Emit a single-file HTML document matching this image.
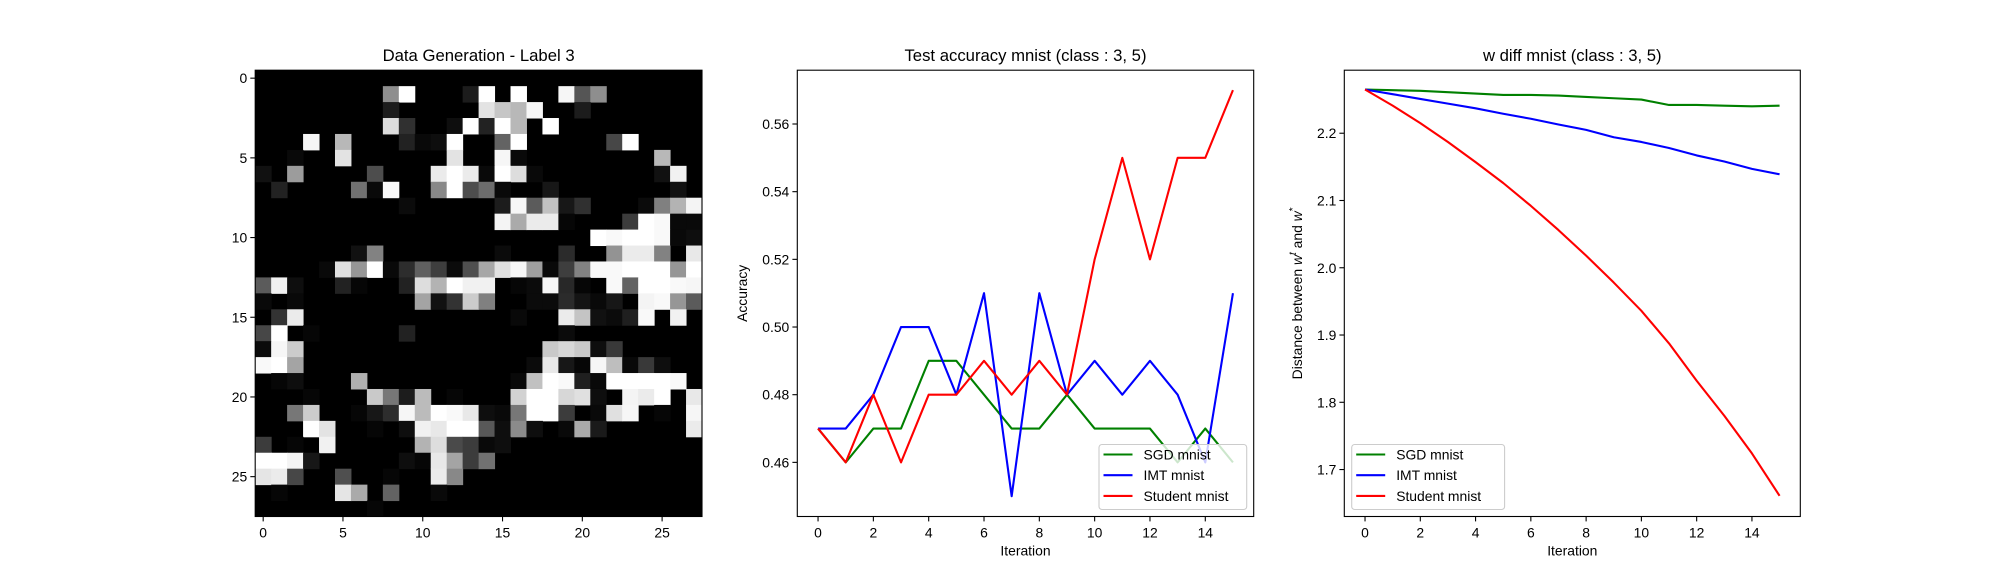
<!DOCTYPE html>
<html><head><meta charset="utf-8"><style>
html,body{margin:0;padding:0;background:#fff;}
svg{display:block;font-family:"Liberation Sans","DejaVu Sans",sans-serif;}
</style></head><body>
<svg id="fig" width="2000" height="580" viewBox="0 0 2000 580" xmlns="http://www.w3.org/2000/svg">
<rect width="2000" height="580" fill="#fff"/>
</svg>
<script>
// ---------- Heatmap data (value 0..9, 9 = white), sparse [row, col, value] ----------
const heatCells = [
[1,8,5],[1,9,9],[1,13,1],[1,14,9],[1,16,9],[1,19,8.7],[1,20,3],[1,21,5],
[2,8,1],[2,14,8],[2,15,7],[2,16,6.5],[2,17,8.7],[2,20,1],
[3,8,7.8],[3,9,1.7],[3,12,0.5],[3,13,9],[3,14,1.2],[3,15,9],[3,16,6.5],[3,18,9],
[4,3,8.7],[4,5,6.5],[4,9,1.2],[4,10,0.3],[4,11,0.5],[4,12,9],[4,15,3.5],[4,16,9],[4,22,2.5],[4,23,9],
[5,2,0.3],[5,5,8],[5,12,8],[5,15,8.7],[5,16,0.3],[5,25,6.5],
[6,0,0.6],[6,2,5.5],[6,7,2.7],[6,11,8.3],[6,12,9],[6,13,8.3],[6,14,0.3],[6,15,9],[6,16,7.8],[6,17,0.3],[6,25,0.6],[6,26,8.5],
[7,1,1.2],[7,6,4],[7,7,0.3],[7,8,8.8],[7,11,4.8],[7,12,9],[7,13,2.7],[7,14,3.8],[7,15,0.3],[7,18,0.8],[7,26,0.6],
[8,9,0.4],[8,15,1],[8,16,8.7],[8,17,3.2],[8,18,6.8],[8,19,0.8],[8,20,1.7],[8,24,0.4],[8,25,4.5],[8,26,6.3],[8,27,8.6],
[9,15,8.6],[9,16,6],[9,17,8.3],[9,18,8.3],[9,19,0.2],[9,23,2.1],[9,24,9],[9,25,8.8],[9,26,0.3],[9,27,0.3],
[10,21,9],[10,22,8.8],[10,23,9],[10,24,9],[10,25,8.8],[10,26,0.3],[10,27,0.5],
[11,6,0.6],[11,7,4.6],[11,15,0.4],[11,19,1.5],[11,22,5.2],[11,23,8.3],[11,24,8.3],[11,25,4.6],[11,27,8.2],
[12,4,0.3],[12,5,7.9],[12,6,5.3],[12,7,9],[12,8,0.3],[12,9,1.6],[12,10,3.4],[12,11,2.2],[12,12,0.4],[12,13,2.8],[12,14,5.9],[12,15,7.9],[12,16,8.7],[12,17,5.6],[12,18,0.3],[12,19,2.2],[12,20,4.6],[12,21,8.8],[12,22,8.8],[12,23,9],[12,24,9],[12,25,9],[12,26,5.3],[12,27,9],
[13,0,3.2],[13,1,8.5],[13,2,0.5],[13,5,1.2],[13,6,0.2],[13,9,1.2],[13,10,7.8],[13,11,6.3],[13,12,9],[13,13,8.5],[13,14,8.5],[13,16,0.2],[13,17,0.4],[13,18,8.7],[13,19,1.4],[13,20,0.2],[13,22,8.8],[13,23,3.5],[13,24,9],[13,25,9],[13,26,8.8],[13,27,8.7],
[14,0,0.3],[14,2,0.3],[14,10,5.8],[14,11,0.6],[14,12,1.8],[14,13,7.2],[14,14,4.5],[14,17,0.4],[14,18,0.4],[14,19,1.5],[14,20,0.7],[14,21,0.3],[14,22,0.8],[14,24,8.6],[14,25,8.8],[14,26,5.3],[14,27,3.2],
[15,1,1.8],[15,2,8.3],[15,16,0.3],[15,19,8.3],[15,20,6.9],[15,21,0.6],[15,22,0.4],[15,23,1.1],[15,24,8.8],[15,26,8.5],
[16,0,2.5],[16,1,9],[16,3,0.2],[16,9,1.2],[16,19,0.4],
[17,0,0.4],[17,1,8.7],[17,2,7.2],[17,18,7.1],[17,19,7.6],[17,20,7.1],[17,21,0.5],[17,22,2],
[18,0,8.8],[18,1,9],[18,2,5.8],[18,17,0.4],[18,18,8.2],[18,19,0.8],[18,20,0.2],[18,21,8.7],[18,22,6.7],[18,23,0.3],[18,24,2],[18,25,0.5],
[19,1,0.2],[19,2,0.5],[19,6,6.2],[19,16,0.3],[19,17,6.8],[19,18,9],[19,19,8.8],[19,20,1.1],[19,21,0.3],[19,22,9],[19,23,9],[19,24,9],[19,25,9],[19,26,8.8],
[20,3,0.2],[20,7,7.1],[20,8,4.2],[20,9,1],[20,10,6.6],[20,12,0.2],[20,16,7.4],[20,17,9],[20,18,9],[20,19,7.6],[20,20,7.9],[20,21,0.5],[20,23,8.6],[20,24,8.3],[20,25,9],[20,27,8.2],
[21,2,4.2],[21,3,7.2],[21,6,0.2],[21,7,0.8],[21,8,1.6],[21,9,8.7],[21,10,6.6],[21,11,9],[21,12,8.8],[21,13,8.2],[21,14,0.5],[21,15,0.3],[21,16,4.2],[21,17,9],[21,18,9],[21,19,2.1],[21,21,0.3],[21,22,7.9],[21,23,8.7],[21,25,0.2],[21,27,8.7],
[22,3,9],[22,4,8],[22,7,0.2],[22,9,0.5],[22,10,8.5],[22,11,8.2],[22,12,9],[22,13,9],[22,14,3.1],[22,15,0.5],[22,16,4.9],[22,17,0.5],[22,19,0.3],[22,20,6],[22,21,0.9],[22,27,8.3],
[23,0,2.1],[23,2,0.2],[23,4,8.5],[23,10,6.3],[23,11,7.8],[23,12,2.6],[23,13,2.1],[23,14,0.3],[23,15,0.5],
[24,0,9],[24,1,9],[24,2,8.6],[24,3,0.8],[24,9,0.5],[24,10,0.2],[24,11,8.2],[24,12,5.8],[24,13,2.1],[24,14,4],
[25,0,8.1],[25,1,8.3],[25,2,2.5],[25,5,2.8],[25,8,0.2],[25,11,8.3],[25,12,4.8],
[26,1,0.2],[26,5,8.1],[26,6,6],[26,8,3.5],[26,11,0.3],
[27,7,0.2]
];
const heatTicks = [0,5,10,15,20,25];

// ---------- Accuracy chart data ----------
const iterations = [0,1,2,3,4,5,6,7,8,9,10,11,12,13,14,15];
const accSGD = [0.47,0.46,0.47,0.47,0.49,0.49,0.48,0.47,0.47,0.48,0.47,0.47,0.47,0.46,0.47,0.46];
const accIMT = [0.47,0.47,0.48,0.50,0.50,0.48,0.51,0.45,0.51,0.48,0.49,0.48,0.49,0.48,0.46,0.51];
const accStudent = [0.47,0.46,0.48,0.46,0.48,0.48,0.49,0.48,0.49,0.48,0.52,0.55,0.52,0.55,0.55,0.57];
const accYTicks = [0.46,0.48,0.50,0.52,0.54,0.56];
const xTicks = [0,2,4,6,8,10,12,14];

// ---------- w diff chart data ----------
const wSGD = [2.265,2.264,2.263,2.261,2.259,2.257,2.257,2.256,2.254,2.252,2.250,2.242,2.242,2.241,2.240,2.241];
const wIMT = [2.265,2.258,2.251,2.244,2.237,2.229,2.2215,2.213,2.205,2.194,2.187,2.178,2.167,2.158,2.147,2.139];
const wStudent = [2.265,2.241,2.215,2.187,2.157,2.126,2.092,2.056,2.018,1.978,1.936,1.8875,1.832,1.780,1.724,1.661];
const wYTicks = [1.7,1.8,1.9,2.0,2.1,2.2];
const seriesNames = ["SGD mnist","IMT mnist","Student mnist"];

const NS = "http://www.w3.org/2000/svg";
const svg = document.getElementById("fig");
function mk(tag, attrs, parent, text) {
  const e = document.createElementNS(NS, tag);
  for (const k in attrs) e.setAttribute(k, attrs[k]);
  if (text !== undefined) e.textContent = text;
  (parent || svg).appendChild(e);
  return e;
}
const TICK_FS = 13.9, TITLE_FS = 16.7;
const AX_T = 70.2, AX_B = 516.5;

// ================= Heatmap =================
(function(){
  const g = mk("g", {});
  
  
  const L = 255.2, T = AX_T, n = 28, cw = (702 - 255.2) / n, ch = (AX_B - AX_T) / n;
  const xS = c => L + c * cw, yS = r => T + r * ch;
  const bg = mk("rect", {x:L, y:T, width:n*cw, height:n*ch, fill:"#000"}, g);
  
  
  heatCells.forEach(([r, c, v]) => {
    const gv = Math.round(Math.min(255, v / 9 * 255));
    const rc = mk("rect", {x:xS(c), y:yS(r), width:cw+0.5, height:ch+0.5, fill:`rgb(${gv},${gv},${gv})`}, g);
    
    
  });
  const fr = mk("rect", {x:L, y:T, width:n*cw, height:n*ch, fill:"none", stroke:"#000", "stroke-width":1.1}, g);
  
  
  const B = T + n*ch;
  heatTicks.forEach(t => {
    const x = xS(t + 0.5);
    mk("line", {x1:x, x2:x, y1:B, y2:B+4.9, stroke:"#000", "stroke-width":1.1}, g);
    const tl = mk("text", {x:x, y:B+21, "font-size":TICK_FS, "text-anchor":"middle", fill:"#000"}, g, String(t));
    
    
    const y = yS(t + 0.5);
    mk("line", {x1:L, x2:L-4.9, y1:y, y2:y, stroke:"#000", "stroke-width":1.1}, g);
    const yl = mk("text", {x:L-8, y:y+5, "font-size":TICK_FS, "text-anchor":"end", fill:"#000"}, g, String(t));
    
    
  });
  const tt = mk("text", {x:L + n*cw/2, y:61, "font-size":TITLE_FS, "text-anchor":"middle", fill:"#000"}, g, "Data Generation - Label 3");
  
  
})();

// ================= Line chart helper =================
function lineChart(cfg) {
  const g = mk("g", {});
  
  
  const {L, R, T, B, xmin, xmax, ymin, ymax} = cfg;
  const xS = v => L + (v - xmin) / (xmax - xmin) * (R - L);
  const yS = v => B - (v - ymin) / (ymax - ymin) * (B - T);
  const clipId = cfg.name + "-clip";
  const cp = mk("clipPath", {id: clipId}, g);
  mk("rect", {x:L, y:T, width:R-L, height:B-T}, cp);
  const colors = ["#008000", "#0000ff", "#ff0000"];
  const names = ['line-sgd', 'line-imt', 'line-student'];
  cfg.series.forEach((s, i) => {
    const pts = iterations.map((it, k) => xS(it).toFixed(2) + "," + yS(s[k]).toFixed(2)).join(" ");
    const pl = mk("polyline", {points:pts, fill:"none", stroke:colors[i], "stroke-width":2.1, "stroke-linejoin":"round", "clip-path":`url(#${clipId})`}, g);
    
    
  });
  const fr = mk("rect", {x:L, y:T, width:R-L, height:B-T, fill:"none", stroke:"#000", "stroke-width":1.1}, g);
  
  
  xTicks.forEach(t => {
    const x = xS(t);
    mk("line", {x1:x, x2:x, y1:B, y2:B+4.9, stroke:"#000", "stroke-width":1.1}, g);
    const tl = mk("text", {x:x, y:B+21, "font-size":TICK_FS, "text-anchor":"middle", fill:"#000"}, g, String(t));
    
    
  });
  cfg.yTicks.forEach(t => {
    const y = yS(t);
    mk("line", {x1:L, x2:L-4.9, y1:y, y2:y, stroke:"#000", "stroke-width":1.1}, g);
    const yl = mk("text", {x:L-8, y:y+5, "font-size":TICK_FS, "text-anchor":"end", fill:"#000"}, g, t.toFixed(cfg.dec));
    
    
  });
  const xt = mk("text", {x:(L+R)/2, y:B+39, "font-size":TICK_FS, "text-anchor":"middle", fill:"#000"}, g, "Iteration");
  
  
  const yt = mk("text", {x:0, y:0, "font-size":TICK_FS, "text-anchor":"middle", fill:"#000", transform:`translate(${cfg.ylabX},${(T+B)/2}) rotate(-90)`}, g);
  
  
  cfg.ylab(yt);
  const tt = mk("text", {x:(L+R)/2, y:61, "font-size":TITLE_FS, "text-anchor":"middle", fill:"#000"}, g, cfg.title);
  
  
  // legend
  const lg = mk("g", {}, g);
  
  
  const lx = cfg.legX, lw = cfg.legW, ly = 444.5, lh = 65;
  mk("rect", {x:lx, y:ly, width:lw, height:lh, rx:3, fill:"#fff", "fill-opacity":0.8, stroke:"#cccccc", "stroke-width":1.1}, lg);
  seriesNames.forEach((nm, i) => {
    const y = 454.5 + i * 20.7;
    const e = mk("g", {}, lg);
    
    
    mk("line", {x1:lx+4.5, x2:lx+33.5, y1:y, y2:y, stroke:colors[i], "stroke-width":2.1}, e);
    mk("text", {x:lx+44.5, y:y+5, "font-size":TICK_FS, fill:"#000"}, e, nm);
  });
}

lineChart({
  name:"accuracy-chart", title:"Test accuracy mnist (class : 3, 5)",
  L:797.3, R:1253.7, T:AX_T, B:AX_B, xmin:-0.75, xmax:15.75,
  ymin:0.4440, ymax:0.5759, yTicks:accYTicks, dec:2,
  series:[accSGD, accIMT, accStudent], ylabX:747,
  ylab: t => { t.textContent = "Accuracy"; },
  legX:1099, legW:147.7
});

lineChart({
  name:"wdiff-chart", title:"w diff mnist (class : 3, 5)",
  L:1344.3, R:1800.3, T:AX_T, B:AX_B, xmin:-0.75, xmax:15.75,
  ymin:1.6302, ymax:2.2937, yTicks:wYTicks, dec:1,
  series:[wSGD, wIMT, wStudent], ylabX:1302,
  ylab: t => {
    t.appendChild(document.createTextNode("Distance between "));
    const w1 = document.createElementNS(NS, "tspan"); w1.setAttribute("font-style","italic"); w1.textContent = "w"; t.appendChild(w1);
    const s1 = document.createElementNS(NS, "tspan"); s1.setAttribute("font-style","italic"); s1.setAttribute("font-size","10"); s1.setAttribute("dy","-6"); s1.textContent = "t"; t.appendChild(s1);
    const a = document.createElementNS(NS, "tspan"); a.setAttribute("dy","6"); a.textContent = " and "; t.appendChild(a);
    const w2 = document.createElementNS(NS, "tspan"); w2.setAttribute("font-style","italic"); w2.textContent = "w"; t.appendChild(w2);
    const s2 = document.createElementNS(NS, "tspan"); s2.setAttribute("font-size","10"); s2.setAttribute("dy","-6"); s2.textContent = "*"; t.appendChild(s2);
  },
  legX:1351.7, legW:152.9
});
</script>
</body></html>
